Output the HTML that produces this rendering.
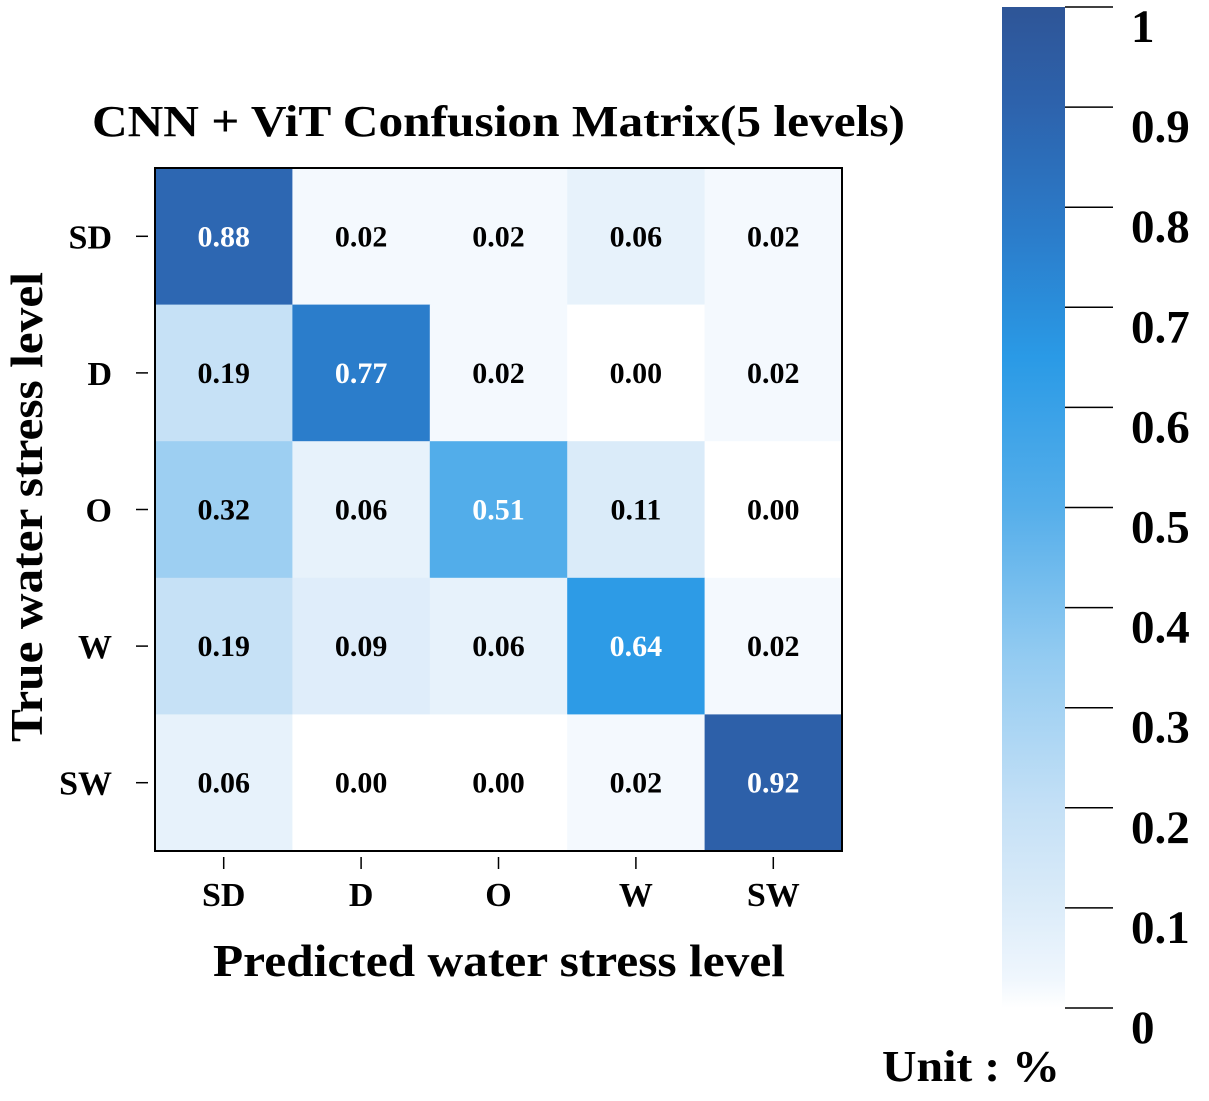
<!DOCTYPE html>
<html><head><meta charset="utf-8"><style>
body{margin:0;background:#fff;}
svg text{font-family:"Liberation Serif",serif;font-weight:bold;}
</style></head><body>
<svg id="chart" width="1209" height="1096" viewBox="0 0 1209 1096">
<defs>
<linearGradient id="cbg" x1="0" y1="1" x2="0" y2="0">
<stop offset="0" stop-color="#ffffff"/>
<stop offset="0.03" stop-color="#eff6fd"/>
<stop offset="0.1" stop-color="#dcecf9"/>
<stop offset="0.2" stop-color="#c4e0f6"/>
<stop offset="0.35" stop-color="#93cbf1"/>
<stop offset="0.5" stop-color="#55aeea"/>
<stop offset="0.65" stop-color="#2a9ae6"/>
<stop offset="0.77" stop-color="#2b7dcb"/>
<stop offset="0.9" stop-color="#2d63ad"/>
<stop offset="1" stop-color="#2e5597"/>
</linearGradient>
</defs>
<g id="cells"></g>
<rect x="155" y="168" width="687" height="683" fill="none" stroke="#000" stroke-width="2"/>
<g id="axes"></g>
<text x="92" y="136" font-size="44" textLength="813" lengthAdjust="spacingAndGlyphs">CNN + ViT Confusion Matrix(5 levels)</text>
<text x="213" y="976" font-size="46" textLength="572" lengthAdjust="spacingAndGlyphs">Predicted water stress level</text>
<text transform="translate(42,742) rotate(-90)" font-size="46" textLength="470" lengthAdjust="spacingAndGlyphs">True water stress level</text>
<rect x="1002" y="7" width="63" height="1001" fill="url(#cbg)"/>
<g id="cbticks"></g>
<text x="882" y="1081" font-size="44" textLength="178" lengthAdjust="spacingAndGlyphs">Unit : %</text>
</svg>
<script>
const labels=["SD","D","O","W","SW"];
const row0=[0.88,0.02,0.02,0.06,0.02];
const row1=[0.19,0.77,0.02,0.00,0.02];
const row2=[0.32,0.06,0.51,0.11,0.00];
const row3=[0.19,0.09,0.06,0.64,0.02];
const row4=[0.06,0.00,0.00,0.02,0.92];
const cbTicks=[0,0.1,0.2,0.3,0.4,0.5,0.6,0.7,0.8,0.9,1];
const cbTickLabels=["0","0.1","0.2","0.3","0.4","0.5","0.6","0.7","0.8","0.9","1"];
const rows=[row0,row1,row2,row3,row4];
const NS="http://www.w3.org/2000/svg";
const X0=155,Y0=168,CW=687/5,CH=683/5;
const xs=i=>X0+i*CW, ys=j=>Y0+j*CH;
const cbY=v=>1008-v*1001;
const stops=[[0,[255,255,255]],[0.03,[239,246,253]],[0.1,[220,236,249]],[0.2,[196,224,246]],[0.35,[147,203,241]],[0.5,[85,174,234]],[0.65,[42,154,230]],[0.77,[43,125,203]],[0.9,[45,99,173]],[1,[46,85,151]]];
function col(v){for(let k=1;k<stops.length;k++){if(v<=stops[k][0]){const a=stops[k-1],b=stops[k],t=(v-a[0])/(b[0]-a[0]);return "rgb("+a[1].map((c,i)=>Math.round(c+(b[1][i]-c)*t)).join(",")+")";}}return "rgb(46,85,151)";}
function mk(tag,attrs,parent){const e=document.createElementNS(NS,tag);for(const k in attrs)e.setAttribute(k,attrs[k]);parent.appendChild(e);return e;}
const cells=document.getElementById("cells"),axes=document.getElementById("axes"),cbt=document.getElementById("cbticks");
rows.forEach((r,j)=>r.forEach((v,i)=>{
 const rc=mk("rect",{x:xs(i),y:ys(j),width:CW+0.5,height:CH+0.5,fill:col(v)},cells);
 
 
 const t=mk("text",{x:xs(i)+CW/2,y:ys(j)+CH/2+10,"font-size":30,"text-anchor":"middle",fill:v>0.45?"#fff":"#000"},cells);
 t.textContent=v.toFixed(2);
 
 
}));
labels.forEach((l,i)=>{
 mk("line",{x1:xs(i)+CW/2,x2:xs(i)+CW/2,y1:857,y2:869,stroke:"#000","stroke-width":1.5},axes);
 const t=mk("text",{x:xs(i)+CW/2,y:906,"font-size":34,"text-anchor":"middle"},axes);
 t.textContent=l;
 
 
 mk("line",{x1:136,x2:148,y1:ys(i)+CH/2,y2:ys(i)+CH/2,stroke:"#000","stroke-width":1.5},axes);
 const u=mk("text",{x:112,y:ys(i)+CH/2+12,"font-size":34,"text-anchor":"end"},axes);
 u.textContent=l;
 
 
});
cbTicks.forEach((v,k)=>{
 mk("line",{x1:1065,x2:1113,y1:cbY(v),y2:cbY(v),stroke:"#000","stroke-width":1.5},cbt);
 const t=mk("text",{x:1131,y:cbY(v)+35,"font-size":47},cbt);
 t.textContent=cbTickLabels[k];
 
 
});
</script>
</body></html>
